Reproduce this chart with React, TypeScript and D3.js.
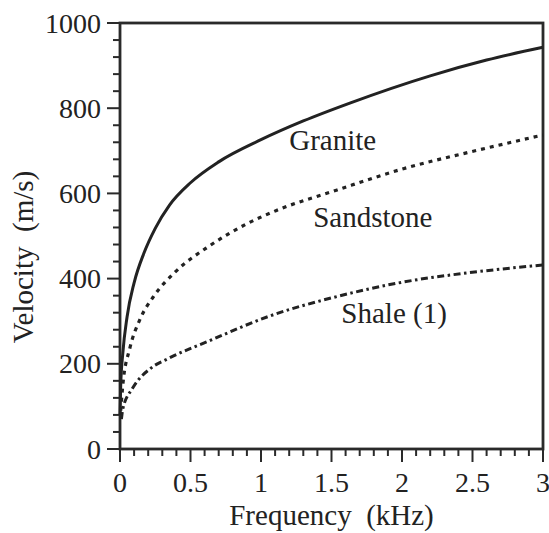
import * as d3 from 'd3';

// dispersion curves (frequency in kHz, velocity in m/s)
const graniteFreq = [0, 0.005, 0.02, 0.05, 0.1, 0.17, 0.25, 0.35, 0.5, 0.7, 1.0, 1.3, 1.63, 2.2, 2.6, 3.0];
const graniteVel = [80, 150, 225, 310, 390, 460, 518, 572, 625, 674, 726, 770, 812, 876, 913, 943];

const sandFreq = [0.005, 0.02, 0.07, 0.14, 0.24, 0.39, 0.64, 0.89, 1.11, 1.54, 2.01, 2.48, 3.0];
const sandVel = [90, 150, 237, 303, 359, 415, 478, 527, 560, 608, 658, 697, 737];

const shaleFreq = [0.01, 0.02, 0.09, 0.22, 0.34, 0.64, 1.06, 1.54, 2.01, 2.48, 3.0];
const shaleVel = [70, 94, 143, 190, 212, 255, 312, 358, 392, 414, 432];

const labelText = ['Granite', 'Sandstone', 'Shale (1)'];
const labelFreq = [1.2, 1.37, 1.57];
const labelVel = [702, 521, 296];

const xTicks = [0, 0.5, 1, 1.5, 2, 2.5, 3];
const yTicks = [0, 200, 400, 600, 800, 1000];

const width = 549;
const height = 533;
const marginLeft = 120;
const marginRight = 6;
const marginTop = 23;
const marginBottom = 84;
const txt = { fontFamily: "'Liberation Serif'", whiteSpace: 'pre' as const };

export default function App() {
  const x = d3.scaleLinear([0, 3], [marginLeft, width - marginRight]);
  const y = d3.scaleLinear([0, 1000], [height - marginBottom, marginTop]);

  const line = d3
    .line<[number, number]>()
    .x((d) => x(d[0]))
    .y((d) => y(d[1]))
    .curve(d3.curveMonotoneX);

  const zip = (f: number[], v: number[]) => f.map((d, i) => [d, v[i]] as [number, number]);

  const xMinor = d3.range(0, 3.0001, 0.1).filter((d) => Math.abs(d * 2 - Math.round(d * 2)) > 1e-6);
  const yMinor = d3.range(0, 1000.1, 40).filter((d) => d % 200 !== 0);

  const x0 = marginLeft;
  const x1 = width - marginRight;
  const y0 = height - marginBottom;
  const y1 = marginTop;

  return (
    <svg
      width={width}
      height={height}
      style={{ position: 'absolute', left: 0, top: 0, background: '#fff' }}
      fill='#222'
    >
      {/* frame */}
      <rect x={x0} y={y1} width={x1 - x0} height={y0 - y1} fill='none' stroke='#2a2a2a' strokeWidth={2.8} />

      {/* ticks, all pointing outward */}
      <g stroke='#2a2a2a' strokeWidth={2}>
        {yTicks.map((t) => (
          <line key={'ym' + t} x1={x0 - 13} x2={x0} y1={y(t)} y2={y(t)} />
        ))}
        {yMinor.map((t) => (
          <line key={'yn' + t} x1={x0 - 7} x2={x0} y1={y(t)} y2={y(t)} />
        ))}
        {xTicks.map((t) => (
          <line key={'xm' + t} x1={x(t)} x2={x(t)} y1={y0} y2={y0 + 13} />
        ))}
        {xMinor.map((t) => (
          <line key={'xn' + t.toFixed(1)} x1={x(t)} x2={x(t)} y1={y0} y2={y0 + 7} />
        ))}
      </g>

      <g fontSize={28} stroke='none'>
        {yTicks.map((t) => (
          <text key={'yl' + t} style={txt} x={x0 - 19} y={y(t)} dy='0.34em' textAnchor='end'>
            {t}
          </text>
        ))}
        {xTicks.map((t) => (
          <text key={'xl' + t} style={txt} x={x(t)} y={y0 + 43} textAnchor='middle'>
            {t}
          </text>
        ))}
      </g>

      {/* axis titles */}
      <text style={txt} x={(x0 + x1) / 2} y={525} fontSize={29} textAnchor='middle'>
        {'Frequency  (kHz)'}
      </text>
      <text style={txt} transform={`translate(33,${257}) rotate(-90)`} fontSize={29} textAnchor='middle'>
        {'Velocity  (m/s)'}
      </text>

      {/* curves */}
      <path d={line(zip(graniteFreq, graniteVel)) ?? ''} fill='none' stroke='#222' strokeWidth={3} />
      <path
        d={line(zip(sandFreq, sandVel)) ?? ''}
        fill='none'
        stroke='#222'
        strokeWidth={3.2}
        strokeDasharray='4 5'
      />
      <path
        d={line(zip(shaleFreq, shaleVel)) ?? ''}
        fill='none'
        stroke='#222'
        strokeWidth={3}
        strokeDasharray='7 3.5 2.5 3.5'
      />

      {/* curve labels */}
      <g fontSize={29}>
        {labelText.map((s, i) => (
          <text key={s} style={txt} x={x(labelFreq[i])} y={y(labelVel[i])}>
            {s}
          </text>
        ))}
      </g>
    </svg>
  );
}
